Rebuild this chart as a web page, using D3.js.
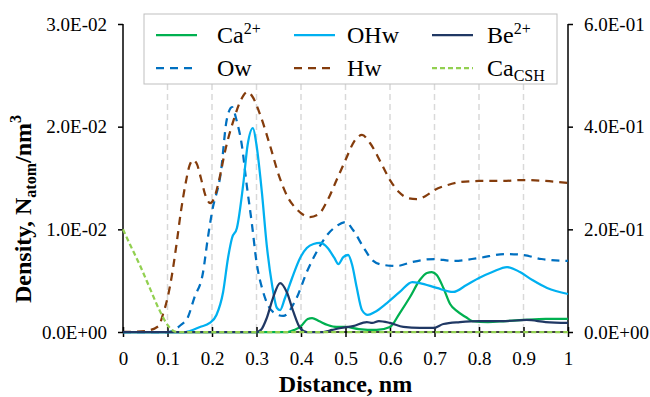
<!DOCTYPE html>
<html><head><meta charset="utf-8">
<script src="https://cdn.jsdelivr.net/npm/d3@7"></script>
<style>
html,body{margin:0;padding:0;background:#fff;}
svg{display:block;font-family:"Liberation Serif","Times New Roman",serif;}
</style></head>
<body><svg id="c" width="650" height="397"></svg>
<script>
// ---- data (left-axis series values in units of 1e-2 atoms/nm3) ----
const xTicks = [0,0.1,0.2,0.3,0.4,0.5,0.6,0.7,0.8,0.9,1];
const leftTicks = [0,0.01,0.02,0.03];
const rightTicks = [0,0.2,0.4,0.6];

const hwX = [0,0.05,0.08,0.09,0.1,0.11,0.12,0.13,0.14,0.15,0.157,0.165,0.175,0.185,0.196,0.205,0.215,0.23,0.25,0.265,0.28,0.29,0.31,0.33,0.35,0.37,0.39,0.42,0.44,0.46,0.48,0.5,0.52,0.537,0.555,0.58,0.6,0.62,0.64,0.66,0.68,0.7,0.73,0.76,0.8,0.85,0.9,0.95,1.0];
const hwY = [0,0.01,0.058,0.175,0.33,0.555,0.847,1.169,1.432,1.627,1.675,1.646,1.5,1.334,1.256,1.305,1.461,1.773,2.084,2.26,2.338,2.299,2.094,1.821,1.529,1.315,1.198,1.12,1.149,1.286,1.48,1.675,1.86,1.919,1.841,1.646,1.48,1.364,1.305,1.295,1.325,1.383,1.432,1.461,1.471,1.471,1.48,1.471,1.451];

const owX = [0,0.1,0.11,0.13,0.145,0.16,0.18,0.19,0.2,0.22,0.233,0.245,0.255,0.267,0.278,0.29,0.3,0.315,0.337,0.36,0.39,0.413,0.435,0.457,0.48,0.5,0.517,0.54,0.56,0.585,0.615,0.65,0.7,0.74,0.8,0.86,0.9,0.94,1.0];
const owY = [0,0,0.01,0.068,0.136,0.331,0.584,0.896,1.169,1.558,2.065,2.191,2.065,1.821,1.432,1.042,0.682,0.39,0.195,0.156,0.331,0.584,0.779,0.935,1.032,1.071,0.993,0.828,0.701,0.653,0.643,0.682,0.711,0.692,0.721,0.76,0.75,0.711,0.692];

const ohwX = [0,0.14,0.15,0.173,0.195,0.21,0.225,0.236,0.245,0.256,0.27,0.28,0.292,0.3,0.312,0.323,0.335,0.346,0.353,0.364,0.38,0.398,0.413,0.428,0.443,0.46,0.475,0.484,0.495,0.506,0.515,0.525,0.537,0.55,0.566,0.593,0.622,0.65,0.667,0.705,0.742,0.772,0.8,0.83,0.863,0.892,0.92,0.953,1.0];
const ohwY = [0,0,0.01,0.049,0.088,0.166,0.39,0.721,0.916,1.013,1.432,1.821,1.987,1.821,1.364,0.847,0.458,0.234,0.214,0.331,0.526,0.721,0.818,0.857,0.867,0.818,0.721,0.662,0.73,0.75,0.653,0.438,0.214,0.166,0.195,0.282,0.39,0.487,0.477,0.429,0.39,0.458,0.526,0.584,0.633,0.584,0.506,0.429,0.37];

const caX = [0,0.37,0.385,0.4,0.415,0.425,0.44,0.46,0.48,0.5,0.53,0.57,0.6,0.622,0.645,0.667,0.683,0.694,0.705,0.72,0.735,0.75,0.77,0.785,0.82,0.86,0.9,0.95,1.0];
const caY = [0,0,0.02,0.058,0.127,0.136,0.107,0.068,0.049,0.049,0.029,0.02,0.049,0.185,0.341,0.506,0.575,0.584,0.555,0.429,0.273,0.205,0.146,0.107,0.097,0.107,0.117,0.127,0.127];

const beX = [0,0.3,0.31,0.323,0.337,0.353,0.368,0.383,0.398,0.413,0.45,0.47,0.49,0.517,0.548,0.56,0.575,0.6,0.63,0.667,0.697,0.72,0.757,0.8,0.86,0.907,0.95,1.0];
const beY = [0,0,0.02,0.136,0.331,0.477,0.39,0.195,0.039,0,0,0.02,0.039,0.058,0.097,0.088,0.107,0.088,0.049,0.039,0.039,0.078,0.097,0.107,0.107,0.117,0.097,0.088];

// Ca_CSH on the secondary (right) axis, real units
const cshX = [0,0.016,0.038,0.06,0.08,0.1,0.11,0.12,0.2,0.4,0.6,0.8,1.0];
const cshY = [0.2,0.17,0.13,0.086,0.046,0.014,0.004,0,0,0,0,0,0];

const series = [
  {name:"Ca", sup:"2+", xs:caX, ys:caY, color:"#00b050", dash:null, axis:"L"},
  {name:"Ow", xs:owX, ys:owY, color:"#0070c0", dash:"8,6", axis:"L"},
  {name:"OHw", xs:ohwX, ys:ohwY, color:"#00b0f0", dash:null, axis:"L"},
  {name:"Hw", xs:hwX, ys:hwY, color:"#843c0c", dash:"8,6", axis:"L"},
  {name:"Be", sup:"2+", xs:beX, ys:beY, color:"#203864", dash:null, axis:"L"},
  {name:"Ca", sub:"CSH", xs:cshX, ys:cshY, color:"#92d050", dash:"5,3", axis:"R"}
];

// ---- layout ----
const L=123, R=568, T=24, B=332;
const svg = d3.select("#c");
const x = d3.scaleLinear().domain([0,1]).range([L,R]);
const yL = d3.scaleLinear().domain([0,0.03]).range([B,T]);
const yR = d3.scaleLinear().domain([0,0.6]).range([B,T]);

function sci(v){
  if (v===0) return "0.0E+00";
  let e = Math.floor(Math.log10(v)+1e-9);
  let m = v/Math.pow(10,e);
  let s = e<0?"-":"+";
  return m.toFixed(1)+"E"+s+String(Math.abs(e)).padStart(2,"0");
}

// gridlines
svg.append("g").selectAll("line").data(xTicks.filter(d=>d>0&&d<1)).join("line")
  .attr("x1",d=>x(d)).attr("x2",d=>x(d)).attr("y1",T).attr("y2",B)
  .attr("stroke","#d9d9d9").attr("stroke-width",1.5).attr("stroke-dasharray","6,4");

// axes
const axL = d3.axisLeft(yL).tickValues(leftTicks).tickFormat(sci).tickSize(5).tickPadding(11);
const axR = d3.axisRight(yR).tickValues(rightTicks).tickFormat(sci).tickSize(5).tickPadding(11);
const axB = d3.axisBottom(x).tickValues(xTicks).tickFormat(d=>String(d)).tickSize(5).tickPadding(15);
function styleAxis(g){
  g.select(".domain").attr("stroke","#000").attr("stroke-width",1.5);
  g.selectAll(".tick line").attr("stroke","#000").attr("stroke-width",1.5);
  g.selectAll(".tick text").attr("font-family","Liberation Serif").attr("font-size",19).attr("fill","#000");
}
const gL = svg.append("g").attr("transform",`translate(${L},0)`).call(axL).call(styleAxis);
gL.select(".domain").attr("d",`M0,${T}V${B}`);
const gR = svg.append("g").attr("transform",`translate(${R},0)`).call(axR).call(styleAxis);
gR.select(".domain").attr("d",`M0,${T}V${B}`);
const gB = svg.append("g").attr("transform",`translate(0,${B})`).call(axB).call(styleAxis);
gB.select(".domain").attr("d",`M${L},0H${R}`);
gB.selectAll(".tick line").attr("y1",-5).attr("y2",5);

// lines
const lineGen = d3.line().curve(d3.curveMonotoneX);
series.forEach(s=>{
  const ys = s.axis==="L" ? yL : yR;
  const pts = s.xs.map((d,i)=>[x(d), ys(s.axis==="L" ? s.ys[i]*1e-2 : s.ys[i])]);
  svg.append("path").attr("d",lineGen(pts)).attr("fill","none")
    .attr("stroke",s.color).attr("stroke-width",2.25)
    .attr("stroke-dasharray",s.dash);
});

// legend
const lg = svg.append("g");
lg.append("rect").attr("x",144).attr("y",14).attr("width",413).attr("height",70)
  .attr("fill","#fff").attr("stroke","#bfbfbf").attr("stroke-width",1);
const legendOrder = [0,2,4,1,3,5];
const colX = [156,294,432], textX=[217,347,487], rowY=[35,68];
legendOrder.forEach((si,k)=>{
  const s = series[si], c=k%3, r=Math.floor(k/3);
  lg.append("line").attr("x1",colX[c]).attr("x2",colX[c]+41).attr("y1",rowY[r]).attr("y2",rowY[r])
    .attr("stroke",s.color).attr("stroke-width",2.25).attr("stroke-dasharray",s.dash);
  const t = lg.append("text").attr("x",textX[c]).attr("y",rowY[r]+8).attr("font-size",24).attr("fill","#000");
  t.append("tspan").text(s.name);
  if (s.sup) t.append("tspan").attr("font-size",16).attr("dy",-9).text(s.sup);
  if (s.sub) t.append("tspan").attr("font-size",16).attr("dy",5).text(s.sub);
});

// axis titles
svg.append("text").attr("x",(L+R)/2).attr("y",392).attr("text-anchor","middle")
  .attr("font-size",24).attr("font-weight","bold").text("Distance, nm");
const yt = svg.append("text").attr("transform","translate(31,209) rotate(-90)")
  .attr("text-anchor","middle").attr("font-size",24).attr("font-weight","bold");
yt.append("tspan").text("Density, N");
yt.append("tspan").attr("font-size",16).attr("dy",5).text("atom");
yt.append("tspan").attr("dy",-5).text("/nm");
yt.append("tspan").attr("font-size",16).attr("dy",-10).text("3");
</script></body></html>
